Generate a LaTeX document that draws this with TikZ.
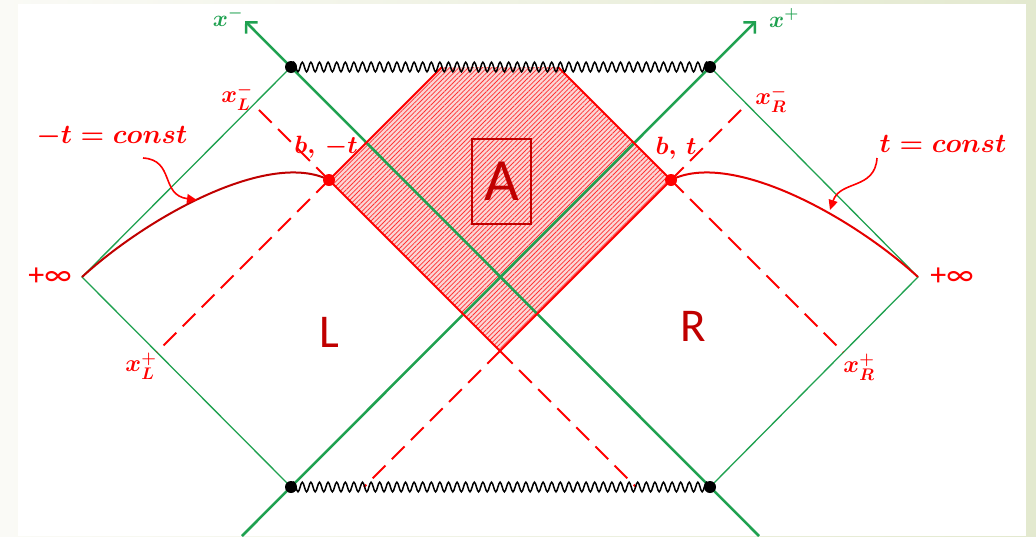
\RequirePackage{fix-cm}
\documentclass[tikz,border=0pt]{standalone}
\usepackage{fontspec}
\newfontfamily\carl{Carlito}
\usetikzlibrary{decorations.pathmorphing,arrows.meta,patterns.meta}
\definecolor{gline}{HTML}{1FA150}
\definecolor{rline}{HTML}{FF0000}
\definecolor{dred}{HTML}{C00000}
\definecolor{bgl}{HTML}{FAFAF6}
\definecolor{bgr}{HTML}{E3E9CF}
\definecolor{hatchfill}{HTML}{FBD6D6}
\tikzset{
  thingreen/.style={draw=gline, line width=1.3pt},
  axisline/.style={draw=gline, line width=2.5pt, -{Straight Barb[length=8pt,width=16pt]}},
  rsolid/.style={draw=rline, line width=2pt, line join=round},
  rdash/.style={draw=rline, line width=2pt, dash pattern=on 18pt off 9pt},
  wavy/.style={draw=black, line width=1.5pt, decorate, decoration={snake, amplitude=4.8pt, segment length=8.6pt}},
  curly/.style={draw=rline, line width=1.6pt, -{Triangle[length=10pt,width=9pt]}},
  mathlab/.style={text=rline, inner sep=0pt},
  xlab/.style={text=rline, inner sep=0pt, font=\fontsize{24}{26}\selectfont\boldmath},
  glab/.style={text=gline, inner sep=0pt, font=\fontsize{23}{25}\selectfont\boldmath},
  biglab/.style={text=dred, inner sep=0pt, font=\carl\fontsize{47}{47}\selectfont},
}
\begin{document}
\begin{tikzpicture}[x=1pt,y=-1pt]
\useasboundingbox (0,0) rectangle (1036,536);
\shade[left color=bgl, right color=bgr] (0,0) rectangle (1036,536);
\fill[white] (18,4) rectangle (1026,536);
% key points
\coordinate (TL) at (291,67);
\coordinate (TR) at (710,67);
\coordinate (BL) at (291,487);
\coordinate (BR) at (710,487);
\coordinate (LI) at (82,277);
\coordinate (RI) at (918,277);
\coordinate (P) at (329,180);
\coordinate (Q) at (671,180);
\coordinate (HB) at (500,351);
\coordinate (HTL) at (442,67);
\coordinate (HTR) at (558,67);
\coordinate (DLm) at (254,105);
\coordinate (DLp) at (157,352);
\coordinate (DRm) at (746,105);
\coordinate (DRp) at (843,352);
\coordinate (BDL) at (364,487);
\coordinate (BDR) at (636,487);
\coordinate (XpS) at (242,536);
\coordinate (XpE) at (756,21);
\coordinate (XmS) at (759,536);
\coordinate (XmE) at (245,21);
% hatched region A
\fill[hatchfill] (P) -- (HTL) -- (HTR) -- (Q) -- (HB) -- cycle;
\fill[pattern={Lines[angle=45,distance=3.3pt,line width=0.75pt]}, pattern color=rline!80] (P) -- (HTL) -- (HTR) -- (Q) -- (HB) -- cycle;
% green lines
\draw[thingreen] (TL) -- (LI) -- (BL);
\draw[thingreen] (TR) -- (RI) -- (BR);
\draw[axisline] (XpS) -- (XpE);
\draw[axisline] (XmS) -- (XmE);
% red lines
\draw[rsolid] (HTL) -- (P) -- (HB) -- (Q) -- (HTR);
\draw[rdash] (P) -- (DLm);
\draw[rdash] (P) -- (DLp);
\draw[rdash] (Q) -- (DRm);
\draw[rdash] (Q) -- (DRp);
\draw[rdash] (HB) -- (BDL);
\draw[rdash] (HB) -- (BDR);
% t = const curves
\draw[draw=dred, line width=2pt] (LI) .. controls (150,215) and (270,150) .. (P);
\draw[draw=rline!90!black, line width=2pt] (Q) .. controls (730,150) and (850,215) .. (RI);
% singularities
\draw[wavy] (TL) -- (TR);
\draw[wavy] (BL) -- (BR);
\fill[black] (TL) circle (6pt);
\fill[black] (TR) circle (6pt);
\fill[black] (BL) circle (6pt);
\fill[black] (BR) circle (6pt);
\fill[rline] (P) circle (6pt);
\fill[rline] (Q) circle (6pt);
% labels
\node[mathlab, font=\fontsize{27}{30}\selectfont\boldmath] (lblL) at (112,137) {$-t=const$};
\node[mathlab, font=\fontsize{27}{30}\selectfont\boldmath] (lblR) at (943,144) {$t=const$};
\coordinate (cLs) at (143,158);
\coordinate (cLe) at (197,200);
\coordinate (cRs) at (877,158);
\coordinate (cRe) at (830,210);
\draw[curly] (cLs) .. controls (175,160) and (160,195) .. (cLe);
\draw[curly] (cRs) .. controls (875,190) and (840,180) .. (cRe);
\node[mathlab, font=\fontsize{25}{27}\selectfont\boldmath] (bmt) at (326,147) {$b,\,-t$};
\node[mathlab, font=\fontsize{25}{27}\selectfont\boldmath] (bt) at (676,148) {$b,\,t$};
\node[xlab] (xLm) at (237,97) {$x_L^-$};
\node[xlab] (xRm) at (771,99) {$x_R^-$};
\node[xlab] (xLp) at (141,366) {$x_L^+$};
\node[xlab] (xRp) at (859,367) {$x_R^+$};
\node[glab] (xm) at (228,17) {$x^-$};
\node[glab] (xp) at (784,18) {$x^+$};
\node[draw=dred, line width=1.5pt, minimum width=59pt, minimum height=85pt, text=dred, font=\carl\fontsize{60}{60}\selectfont] (A) at (501.5,181.5) {A};
\node[biglab] (Lreg) at (329,332) {L};
\node[biglab] (Rreg) at (693,326) {R};
\node[text=rline, inner sep=0pt, font=\carl\fontsize{32}{32}\selectfont] (infL) at (50,277) {+∞};
\node[text=rline, inner sep=0pt, font=\carl\fontsize{32}{32}\selectfont] (infR) at (952,277) {+∞};
\end{tikzpicture}
\end{document}
